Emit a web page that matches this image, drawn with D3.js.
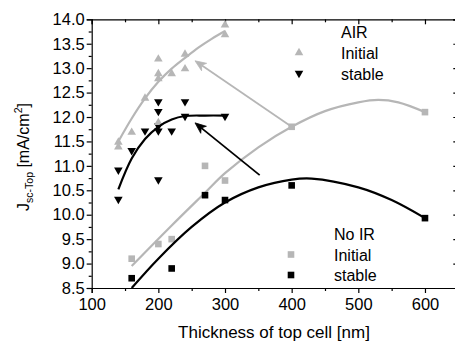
<!DOCTYPE html>
<html>
<head>
<meta charset="utf-8">
<script src="https://cdn.jsdelivr.net/npm/d3@7"></script>
<style>
  body { margin: 0; background: #fff; }
  svg { display: block; font-family: "Liberation Sans", Arial, sans-serif; }
</style>
</head>
<body>
<svg id="chart" width="455" height="341"></svg>
<script>
// measured points
const airInitX = [140, 140, 160, 180, 200, 200, 200, 200, 220, 240, 240, 300, 300];
const airInitY = [11.5, 11.4, 11.7, 12.4, 13.2, 12.9, 12.8, 11.9, 12.9, 13.3, 13.0, 13.9, 13.7];
const airStableX = [140, 140, 160, 180, 200, 200, 200, 200, 200, 220, 240, 240, 300];
const airStableY = [10.9, 10.3, 11.3, 11.7, 12.3, 12.1, 11.8, 11.7, 10.7, 11.7, 12.3, 12.0, 12.0];
const noirInitX = [160, 200, 220, 270, 300, 400, 600];
const noirInitY = [9.1, 9.4, 9.5, 11.0, 10.7, 11.8, 12.1];
const noirStableX = [160, 220, 270, 300, 400, 600];
const noirStableY = [8.7, 8.9, 10.4, 10.3, 10.6, 9.93];

// fit curves
const airInitFitX = [140, 160, 180, 200, 220, 240, 260, 280, 300];
const airInitFitY = [11.5, 11.97, 12.38, 12.72, 12.99, 13.21, 13.42, 13.6, 13.76];
const airStableFitX = [140, 160, 180, 200, 220, 240, 270, 300];
const airStableFitY = [10.52, 11.15, 11.55, 11.8, 11.95, 12.02, 12.03, 12.03];
const noirInitFitX = [160, 220, 270, 300, 350, 400, 450, 500, 530, 560, 600];
const noirInitFitY = [8.95, 9.78, 10.45, 10.85, 11.38, 11.8, 12.12, 12.3, 12.35, 12.3, 12.1];
const noirStableFitX = [160, 200, 250, 300, 350, 400, 430, 500, 550, 600];
const noirStableFitY = [8.5, 9.1, 9.75, 10.25, 10.56, 10.72, 10.74, 10.56, 10.3, 9.93];

// arrows [x0, y0, x1, y1]
const grayArrow = [400, 11.8, 255, 13.15];
const blackArrow = [352, 10.81, 255, 11.88];

const xTicks = [100, 200, 300, 400, 500, 600];
const yTicks = [8.5, 9.0, 9.5, 10.0, 10.5, 11.0, 11.5, 12.0, 12.5, 13.0, 13.5, 14.0];

const GRAY = '#b6b6b6';
const svg = d3.select('#chart');
const x = d3.scaleLinear().domain([100, 650]).range([91.7, 458.3]);
const y = d3.scaleLinear().domain([8.5, 14]).range([288, 19.3]);

const xMinor = d3.range(150, 650, 100);
const yMinor = d3.range(8.75, 14, 0.5);

function styleAxis(g) {
  g.selectAll('path, line').attr('stroke', '#000').attr('stroke-width', 1.2);
  g.selectAll('text').attr('font-size', 16.5).attr('fill', '#000').attr('font-family', '"Liberation Sans", Arial, sans-serif');
}

// bottom
svg.append('g').attr('transform', 'translate(0,288)')
  .call(d3.axisBottom(x).tickValues(xTicks).tickSize(5).tickPadding(5).tickFormat(d3.format('d')))
  .call(styleAxis);
svg.append('g').attr('transform', 'translate(0,288)')
  .call(d3.axisBottom(x).tickValues(xMinor).tickSize(3).tickFormat(''))
  .call(styleAxis).call(g => g.select('.domain').remove());
// top
svg.append('g').attr('transform', 'translate(0,19.3)')
  .call(d3.axisTop(x).tickValues(xTicks).tickSize(-5).tickFormat(''))
  .call(styleAxis);
svg.append('g').attr('transform', 'translate(0,19.3)')
  .call(d3.axisTop(x).tickValues(xMinor).tickSize(-3).tickFormat(''))
  .call(styleAxis).call(g => g.select('.domain').remove());
// left
svg.append('g').attr('transform', 'translate(91.7,0)')
  .call(d3.axisLeft(y).tickValues(yTicks).tickSize(5).tickPadding(2).tickFormat(d3.format('.1f')))
  .call(styleAxis);
svg.append('g').attr('transform', 'translate(91.7,0)')
  .call(d3.axisLeft(y).tickValues(yMinor).tickSize(3).tickFormat(''))
  .call(styleAxis).call(g => g.select('.domain').remove());
// right
svg.append('g').attr('transform', 'translate(458.3,0)')
  .call(d3.axisRight(y).tickValues(yTicks).tickSize(-5).tickFormat(''))
  .call(styleAxis);
svg.append('g').attr('transform', 'translate(458.3,0)')
  .call(d3.axisRight(y).tickValues(yMinor).tickSize(-3).tickFormat(''))
  .call(styleAxis).call(g => g.select('.domain').remove());

// axis titles
svg.append('text')
  .attr('x', 274).attr('y', 338)
  .attr('text-anchor', 'middle').attr('font-size', 17)
  .text('Thickness of top cell [nm]');

const yl = svg.append('text')
  .attr('transform', 'translate(29,157) rotate(-90)')
  .attr('text-anchor', 'middle').attr('font-size', 16);
yl.append('tspan').text('J');
yl.append('tspan').attr('font-size', 10.5).attr('dy', 4).text('sc-Top');
yl.append('tspan').attr('dy', -4).text(' [mA/cm');
yl.append('tspan').attr('font-size', 10.5).attr('dy', -7).text('2');
yl.append('tspan').attr('dy', 7).text(']');

// fit curves
const line = d3.line().x(d => x(d[0])).y(d => y(d[1])).curve(d3.curveCatmullRom);
function fit(xs, ys, color) {
  svg.append('path')
    .attr('d', line(d3.zip(xs, ys)))
    .attr('fill', 'none').attr('stroke', color).attr('stroke-width', 2.2);
}
fit(noirInitFitX, noirInitFitY, GRAY);
fit(airInitFitX, airInitFitY, GRAY);

// arrows
function arrow(a, color, w) {
  const x0 = x(a[0]), y0 = y(a[1]), x1 = x(a[2]), y1 = y(a[3]);
  const ang = Math.atan2(y1 - y0, x1 - x0);
  const L = 11, W = 4.5, back = 8;
  const bx = x1 - Math.cos(ang) * back, by = y1 - Math.sin(ang) * back;
  svg.append('line')
    .attr('x1', x0).attr('y1', y0).attr('x2', bx).attr('y2', by)
    .attr('stroke', color).attr('stroke-width', w);
  const p = (d, s) => [x1 - Math.cos(ang) * d - Math.sin(ang) * s, y1 - Math.sin(ang) * d + Math.cos(ang) * s];
  svg.append('path')
    .attr('d', 'M' + [x1, y1] + 'L' + p(L, W) + 'L' + p(back, 0) + 'L' + p(L, -W) + 'Z')
    .attr('fill', color).attr('stroke', color).attr('stroke-width', 0.8);
}
arrow(grayArrow, GRAY, 1.8);
arrow(blackArrow, '#000', 1.8);

// markers
const triUp = 'M0,-4.2L4.3,3.2L-4.3,3.2Z';
const triDown = 'M0,4.2L4.3,-3.2L-4.3,-3.2Z';
function tris(xs, ys, path, color) {
  svg.append('g').selectAll('path')
    .data(d3.zip(xs, ys)).join('path')
    .attr('transform', d => `translate(${x(d[0])},${y(d[1])})`)
    .attr('d', path).attr('fill', color);
}
function squares(xs, ys, color) {
  svg.append('g').selectAll('rect')
    .data(d3.zip(xs, ys)).join('rect')
    .attr('x', d => x(d[0]) - 3.3).attr('y', d => y(d[1]) - 3.3)
    .attr('width', 6.6).attr('height', 6.6).attr('fill', color);
}
squares(noirInitX, noirInitY, GRAY);
squares(noirStableX, noirStableY, '#000');
tris(airStableX, airStableY, triDown, '#000');
tris(airInitX, airInitY, triUp, GRAY);

fit(airStableFitX, airStableFitY, '#000');
fit(noirStableFitX, noirStableFitY, '#000');

// legends
const leg = svg.append('g').attr('font-size', 16);
leg.append('text').attr('x', 341).attr('y', 38).text('AIR');
leg.append('text').attr('x', 341).attr('y', 59).text('Initial');
leg.append('text').attr('x', 341).attr('y', 80).text('stable');
leg.append('path').attr('transform', 'translate(299,52)').attr('d', triUp).attr('fill', GRAY);
leg.append('path').attr('transform', 'translate(299,74)').attr('d', triDown).attr('fill', '#000');

leg.append('text').attr('x', 334).attr('y', 240).text('No IR');
leg.append('text').attr('x', 334).attr('y', 261).text('Initial');
leg.append('text').attr('x', 334).attr('y', 281).text('stable');
leg.append('rect').attr('x', 291 - 3.3).attr('y', 254.5 - 3.3).attr('width', 6.6).attr('height', 6.6).attr('fill', GRAY);
leg.append('rect').attr('x', 291 - 3.3).attr('y', 275 - 3.3).attr('width', 6.6).attr('height', 6.6).attr('fill', '#000');
</script>
</body>
</html>
